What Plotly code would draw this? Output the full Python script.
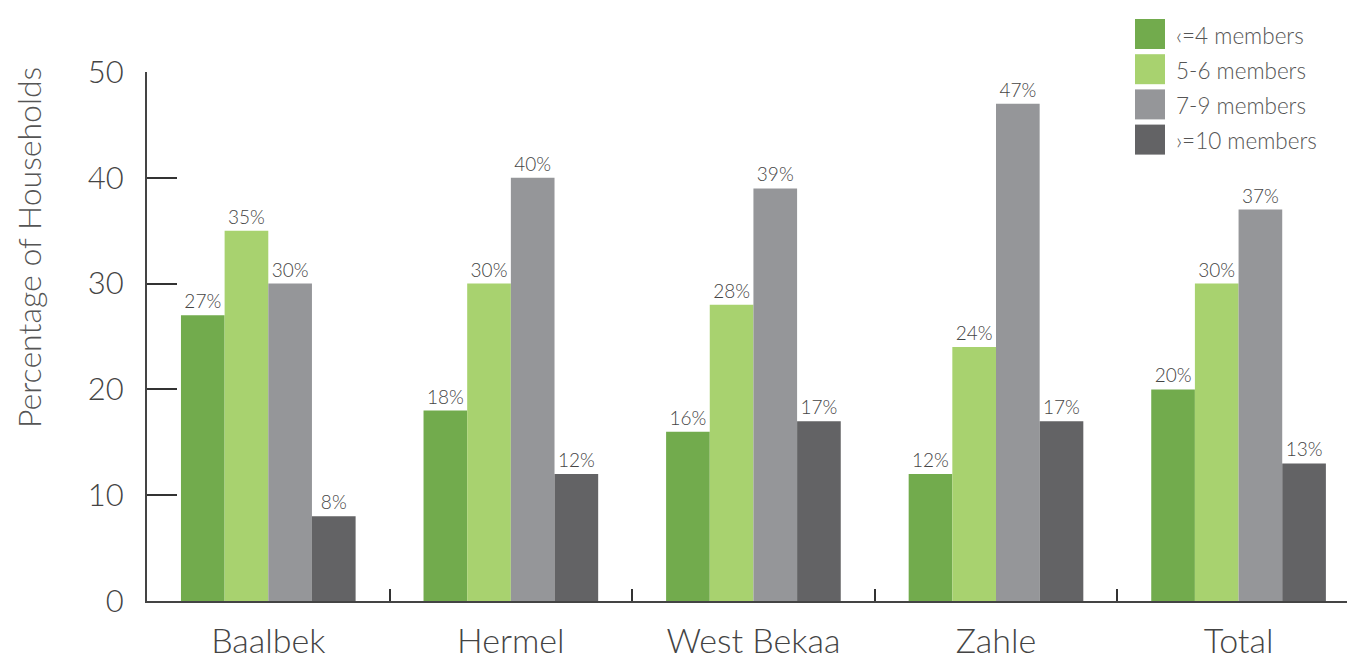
import plotly.graph_objects as go

categories = ["Baalbek", "Hermel", "West Bekaa", "Zahle", "Total"]
series_names = ["<=4 members", "5-6 members", "7-9 members", ">=10 members"]
le4 = [27, 18, 16, 12, 20]
m5_6 = [35, 30, 28, 24, 30]
m7_9 = [30, 40, 39, 47, 37]
ge10 = [8, 12, 17, 17, 13]
y_ticks = [0, 10, 20, 30, 40, 50]

series_values = [le4, m5_6, m7_9, ge10]
colors = ["#72AB4D", "#A8D26F", "#959699", "#636365"]
legend_labels = ["‹=4 members", "5-6 members", "7-9 members", "›=10 members"]

FONT = "Lato"
TXT = "#444444"

# page has an 8px body margin; figure sized so the plot lands where the reference has it
OFF = 8
W, H = 1355 - OFF, 660 - OFF
L, R, T, B = 147 - OFF, 0, 72 - OFF, 59
pw, ph = W - L - R, H - T - B

def px(x):
    return (x - OFF - L) / pw

def py(y):
    return (H - B - (y - OFF)) / ph

fig = go.Figure()
for name, vals, col in zip(series_names, series_values, colors):
    fig.add_trace(go.Bar(
        x=categories, y=vals, name=name, marker=dict(color=col, line=dict(width=0)),
        text=[f"{v}%" for v in vals], textposition="outside",
        textfont=dict(family=FONT, size=19, color=TXT, weight=300),
        cliponaxis=False, showlegend=False,
    ))

# custom legend (large square swatches)
for i, (lab, col) in enumerate(zip(legend_labels, colors)):
    top = 19 + i * 35.2
    fig.add_shape(type="rect", xref="paper", yref="paper",
                  x0=px(1135), x1=px(1165), y0=py(top + 30), y1=py(top),
                  fillcolor=col, line=dict(width=0))
    fig.add_annotation(xref="paper", yref="paper", x=px(1174), y=py(top + 16),
                       text=lab, showarrow=False, xanchor="left", yanchor="middle",
                       font=dict(family=FONT, size=22.5, color="#555555", weight=300))

fig.add_annotation(xref="paper", yref="paper", x=px(29), y=py(248),
                   text="Percentage of Households", textangle=-90, showarrow=False,
                   xanchor="center", yanchor="middle",
                   font=dict(family=FONT, size=32, color="#555555", weight=300))

fig.update_layout(
    width=W, height=H, autosize=False,
    margin=dict(l=L, r=R, t=T, b=B, pad=0),
    paper_bgcolor="white", plot_bgcolor="white",
    barmode="group", bargap=0.28, bargroupgap=0,
    font=dict(family=FONT, color=TXT),
)
fig.update_xaxes(
    type="category", range=[-0.5, 4.48], showgrid=False,
    showline=True, linecolor="#444444", linewidth=2,
    ticks="inside", ticklen=12, tickwidth=2, tickcolor="#333333",
    tickson="boundaries", ticklabelstandoff=9,
    tickfont=dict(family=FONT, size=34, color="#444444", weight=300),
    automargin=False, fixedrange=True,
)
fig.update_yaxes(
    range=[0, 50], tickvals=y_ticks, showgrid=False, zeroline=False,
    showline=True, linecolor="#444444", linewidth=2,
    ticks="inside", ticklen=30, tickwidth=2, tickcolor="#333333",
    ticklabelstandoff=15,
    tickfont=dict(family=FONT, size=31, color="#444444", weight=300),
    automargin=False, fixedrange=True,
)

fig.write_html("out.html")
